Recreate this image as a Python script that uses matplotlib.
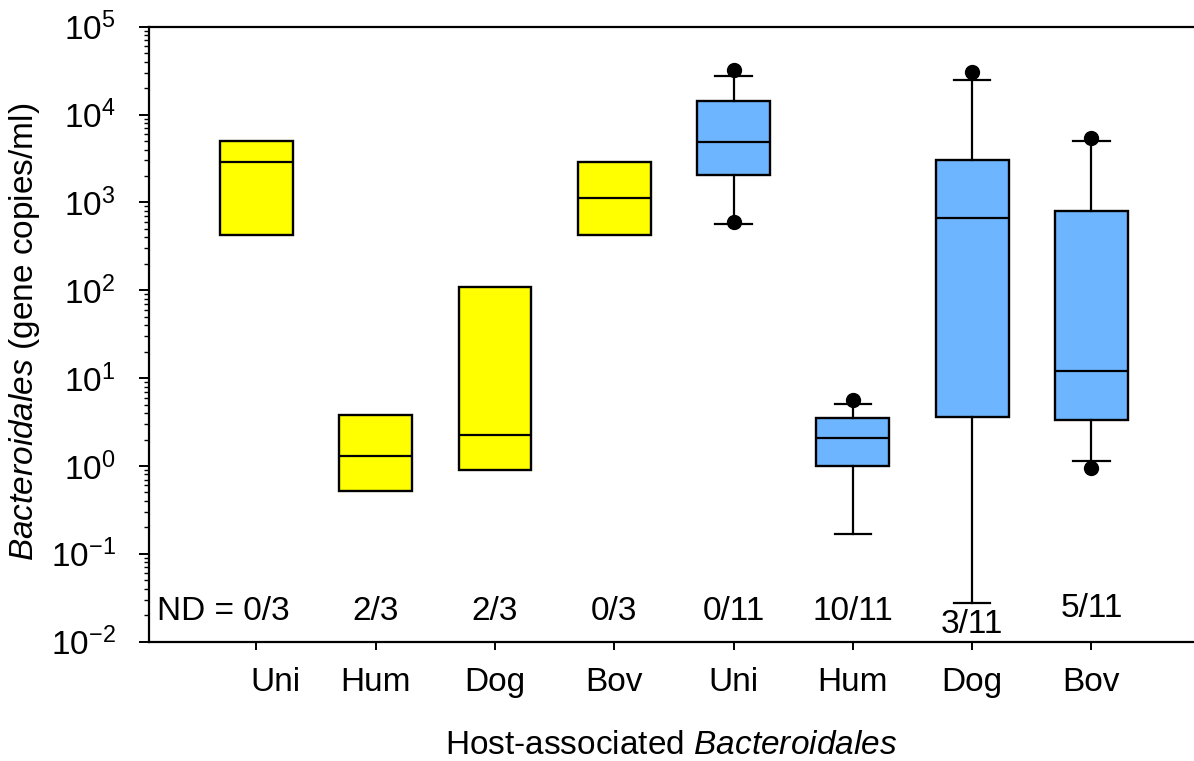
import matplotlib
matplotlib.use('Agg')
import matplotlib.pyplot as plt
from matplotlib.ticker import LogLocator, NullFormatter
from matplotlib.transforms import ScaledTranslation

plt.rcParams['font.family'] = ['Liberation Sans', 'DejaVu Sans']
plt.rcParams['mathtext.fontset'] = 'custom'
plt.rcParams['mathtext.rm'] = 'Liberation Sans'
plt.rcParams['mathtext.it'] = 'Liberation Sans:italic'
plt.rcParams['mathtext.bf'] = 'Liberation Sans:bold'
plt.rcParams['axes.unicode_minus'] = False

# ---- data ----
categories = ['Uni', 'Hum', 'Dog', 'Bov', 'Uni', 'Hum', 'Dog', 'Bov']
is_blue = [False, False, False, False, True, True, True, True]
q1 = [422, 0.517, 0.90, 422, 2070, 1.0, 3.64, 3.37]
med = [2860, 1.30, 2.27, 1122, 4930, 2.06, 659, 12.2]
q3 = [4980, 3.77, 108, 2890, 14300, 3.55, 3020, 798]
whislo = [None, None, None, None, 573, 0.169, 0.0273, 1.15]
whishi = [None, None, None, None, 27400, 5.08, 24700, 4980]
fliers = [[], [], [], [], [32000, 600], [5.6], [30400], [5480, 0.94]]
nd_labels = ['ND = 0/3', '2/3', '2/3', '0/3', '0/11', '10/11', '3/11', '5/11']

YELLOW = '#FFFF00'
BLUE = '#6EB5FF'
FS = 24

fig = plt.figure(figsize=(11.94, 7.61), dpi=100)
ax = fig.add_axes([149/1194, 1-641.7/761, 1-149/1194, (641.7-26.7)/761])

positions = list(range(1, len(categories)+1))

def make_stats(idx):
    out = []
    for i in idx:
        lo = whislo[i] if whislo[i] is not None else q1[i]
        hi = whishi[i] if whishi[i] is not None else q3[i]
        out.append(dict(med=med[i], q1=q1[i], q3=q3[i], whislo=lo, whishi=hi,
                        fliers=fliers[i]))
    return out

yidx = [i for i in range(len(categories)) if not is_blue[i]]
bidx = [i for i in range(len(categories)) if is_blue[i]]

ax.bxp(make_stats(yidx), positions=[positions[i] for i in yidx], widths=0.61,
       patch_artist=True, showcaps=False, showfliers=False, manage_ticks=False,
       boxprops=dict(facecolor=YELLOW, edgecolor='black', linewidth=1.7),
       medianprops=dict(color='black', linewidth=1.6),
       whiskerprops=dict(linewidth=0))

ax.bxp(make_stats(bidx), positions=[positions[i] for i in bidx], widths=0.61,
       patch_artist=True, showcaps=True, showfliers=True, manage_ticks=False,
       boxprops=dict(facecolor=BLUE, edgecolor='black', linewidth=1.7),
       medianprops=dict(color='black', linewidth=1.6),
       whiskerprops=dict(color='black', linewidth=1.6),
       capprops=dict(color='black', linewidth=1.6),
       flierprops=dict(marker='o', markerfacecolor='black', markeredgecolor='black',
                       markersize=10, linestyle='none'))

ax.set_yscale('log')
ax.set_ylim(1e-2, 1e5)
ax.set_xlim(0.1, 0.1 + (1194-149)/119.3)

ax.yaxis.set_major_locator(LogLocator(base=10, numticks=20))
ax.yaxis.set_minor_locator(LogLocator(base=10, subs=range(2, 10), numticks=100))
ax.yaxis.set_minor_formatter(NullFormatter())
ax.set_xticks(positions)
ax.set_xticklabels(categories)

ax.tick_params(axis='y', which='major', direction='out', length=7, width=1.4,
               labelsize=FS, pad=17)
ax.tick_params(axis='y', which='minor', direction='out', length=3.5, width=1.0)
ax.tick_params(axis='x', which='major', direction='out', length=6, width=1.4,
               labelsize=FS, pad=12)
ax.tick_params(top=False, right=False)

# first x tick label sits slightly right of its tick in the reference
first_lbl = ax.get_xticklabels()[0]
first_lbl.set_transform(first_lbl.get_transform() +
                        ScaledTranslation(19/100, 0, fig.dpi_scale_trans))

for s in ['left', 'bottom', 'top']:
    ax.spines[s].set_linewidth(1.6)
ax.spines['right'].set_visible(False)

# ND annotations
nd_y = [0.0223, 0.0223, 0.0223, 0.0223, 0.0223, 0.0223, 0.0158, 0.0237]
for i, lab in enumerate(nd_labels):
    if i == 0:
        ax.text(positions[i] - 0.833, nd_y[i], lab, ha='left', va='center', fontsize=FS)
    else:
        ax.text(positions[i], nd_y[i], lab, ha='center', va='center', fontsize=FS)

fig.text(25/1194, 1-332/761, r'$\it{Bacteroidales}$ (gene copies/ml)', rotation=90,
         ha='center', va='center', fontsize=FS)
fig.text(671/1194, 1-745/761, r'Host-associated $\it{Bacteroidales}$',
         ha='center', va='center', fontsize=FS)

fig.savefig('out.png', dpi=100)
